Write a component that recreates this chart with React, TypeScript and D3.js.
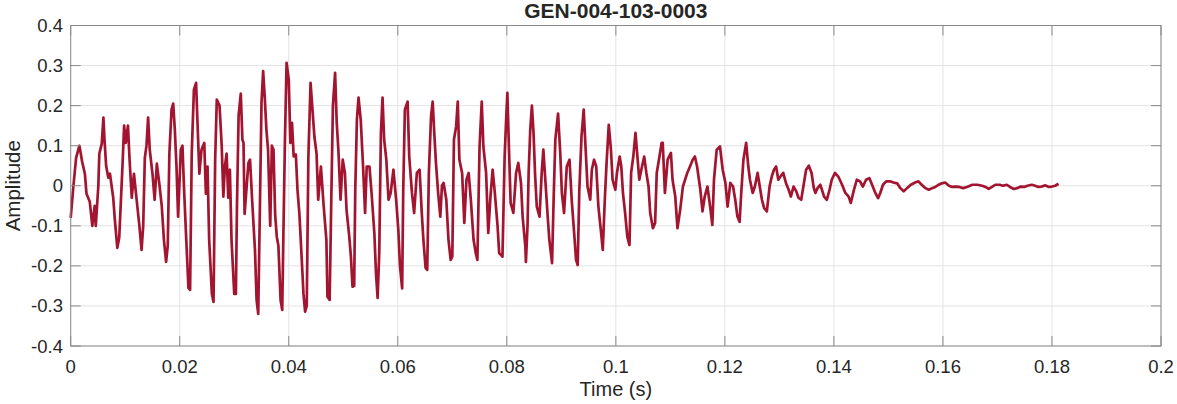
import React from "react";
import * as d3 from "d3";

const chartTitle = "GEN-004-103-0003";
const xLabel = "Time (s)";
const yLabel = "Amplitude";
const xTicks = [0, 0.02, 0.04, 0.06, 0.08, 0.1, 0.12, 0.14, 0.16, 0.18, 0.2];
const yTicks = [-0.4, -0.3, -0.2, -0.1, 0, 0.1, 0.2, 0.3, 0.4];

// time in milliseconds
const timeMs = [
  0, 0.5, 1.0, 1.6, 2.1, 2.6, 2.9, 3.5, 3.97, 4.4, 4.6, 5.07, 5.25, 5.7, 6.0, 6.2, 6.5, 6.9, 7.2, 7.8,
  8.1, 8.55, 8.9, 9.2, 9.5, 9.8, 10.1, 10.5, 10.8, 11.2, 11.6, 12.1, 12.6, 13.0, 13.3, 13.6, 13.9, 14.2, 14.5, 15.0,
  15.4, 15.8, 16.3, 16.7, 17.1, 17.5, 17.8, 18.1, 18.5, 18.8, 19.1, 19.4, 19.7, 20.2, 20.5, 20.8, 21.2, 21.6, 21.9, 22.2,
  22.6, 23.0, 23.2, 23.6, 24.0, 24.5, 24.8, 25.1, 25.4, 25.9, 26.2, 26.5, 26.8,
  27.3, 27.7, 28.0, 28.3, 28.6, 28.9, 29.2, 29.5, 30.0, 30.3, 30.5, 30.8, 31.2, 31.5, 31.7, 31.9, 32.6, 32.9, 33.3, 33.8,
  34.1, 34.4, 34.7, 35.0, 35.3, 35.6, 35.9, 36.2, 36.6, 36.9, 37.2, 37.5, 37.8, 38.1, 38.5, 38.8, 39.0, 39.3, 39.6, 40.0,
  40.3, 40.6, 40.9, 41.3, 41.6, 41.95, 42.2, 42.7, 43.0, 43.3, 43.6, 44.0, 44.3, 44.7, 45.1, 45.4, 45.9, 46.4, 46.9, 47.1,
  47.5, 47.8, 48.1, 48.5, 48.8, 49.1, 49.5, 49.9, 50.3, 50.6, 51.1, 51.4, 51.7, 52.0, 52.2, 52.5, 52.8, 53.2, 53.6, 54.0,
  54.3, 54.8,
  55.2, 55.7, 56.0, 56.3, 56.6, 56.9, 57.2, 57.5, 57.9, 58.3, 58.7, 59.2, 59.7, 60.1, 60.4, 60.8, 61.0, 61.3, 61.8, 62.1,
  62.6, 63.0, 63.5, 64.0, 64.4, 64.7, 65.1, 65.4, 65.7, 66.1, 66.4, 66.7, 67.0, 67.4, 67.8, 68.1, 68.4, 68.9, 69.3, 69.7,
  70.0, 70.3, 70.7, 71.0, 71.3, 71.8, 72.2, 72.6, 73.0, 73.4, 73.9, 74.3, 74.6, 75.0, 75.4, 75.7, 76.2, 76.6, 77.0, 77.4,
  77.8, 78.3, 78.6, 79.2, 79.6, 79.9, 80.1, 80.4, 80.7, 81.2, 81.7, 82.1,
  82.6, 82.9, 83.4, 83.5, 83.8, 84.0, 84.3, 84.6, 84.9, 85.2, 85.5, 86.0, 86.4, 86.7, 87.1, 87.5, 87.8, 88.3, 88.6, 88.9,
  89.4, 89.8, 90.1, 90.5, 91.0, 91.5, 91.9, 92.4, 92.7, 93.0, 93.3, 93.7, 94.1, 94.4, 94.8, 95.3, 95.6, 96.0, 96.4, 96.8,
  97.3, 97.6, 98.0, 98.3, 98.7, 99.1, 99.4, 99.9, 100.2, 100.7, 101.0, 101.3, 101.7, 102.1, 102.5, 102.8, 103.2, 103.6, 104.0, 104.3,
  104.8, 105.2, 105.6, 106.0, 106.3, 106.8, 107.2, 107.5, 108.0, 108.4, 108.6,
  109.0, 109.5, 110.1, 110.4, 110.9, 111.3, 111.8, 112.3, 112.7, 113.1, 113.6, 114.1, 114.5, 114.9, 115.5, 115.9, 116.3, 116.8, 117.3, 117.7,
  118.0, 118.5, 119.1, 119.6, 120.1, 120.5, 121.0, 121.5, 121.9, 122.3, 122.7, 123.0, 123.4, 123.9, 124.3, 124.6, 125.1, 125.5, 126.0, 126.4,
  126.8, 127.2, 127.7, 128.2, 128.6, 129.0, 129.4, 129.8, 130.2, 130.7, 131.2, 131.7, 132.1, 132.6, 133.1, 133.5, 134.0, 134.4, 134.9, 135.4,
  135.9,
  136.3, 136.6, 137.0, 137.5, 137.8, 138.2, 138.7, 139.2, 139.6, 140.2, 140.8, 141.5, 142.1, 142.7, 143.1, 143.6, 144.2, 144.8, 145.3, 145.9,
  146.5, 147.0, 147.6, 148.1, 148.5, 149.0, 149.6, 150.3, 150.9, 151.6, 152.2, 152.8, 153.4, 154.1, 154.9, 155.5, 156.1, 156.8, 157.4, 158.0,
  158.6, 159.2, 159.8, 160.4, 161.1, 161.7, 162.3, 163.0, 163.7, 164.4, 165.4, 166.3, 167.2, 167.8, 168.4, 169.0, 169.6, 170.4, 171.0, 171.7,
  172.3, 173.0, 173.6, 174.3, 174.9, 175.5, 176.3, 176.9, 177.5, 178.1, 178.8, 179.4, 180.0, 180.6, 181.2,
];

const amplitude = [
  -0.08, 0.0, 0.07, 0.1, 0.06, 0.03, -0.02, -0.04, -0.1, -0.05, -0.1, 0, 0.08, 0.105, 0.17, 0.115, 0.05, 0.02, 0.03, -0.03,
  -0.085, -0.155, -0.13, -0.04, 0.05, 0.15, 0.107, 0.15, 0.065, -0.03, 0.03, -0.035, -0.1, -0.16, -0.1, 0.07, 0.1, 0.17, 0.09, 0.03,
  -0.035, 0.055, 0, -0.05, -0.135, -0.19, -0.15, 0.08, 0.19, 0.205, 0.14, 0.05, -0.077, 0.09, 0.1, -0.01, -0.135, -0.255, -0.26, 0.08,
  0.24, 0.257, 0.18, 0.03, 0.09, 0.107, -0.02, 0.048, -0.135, -0.27, -0.29, 0.065, 0.215,
  0.2, 0.1, -0.027, 0.05, 0.08, -0.03, 0.04, -0.135, -0.27, -0.27, -0.05, 0.175, 0.23, 0.115, 0.107, -0.07, 0.057, 0.065, -0.04, -0.16,
  -0.285, -0.32, -0.06, 0.207, 0.286, 0.22, 0.14, 0.09, -0.1, 0.1, 0.09, -0.07, -0.127, -0.15, -0.285, -0.31, -0.135, 0.115, 0.307, 0.265,
  0.107, 0.157, 0.073, 0.078, -0.01, -0.07, -0.135, -0.27, -0.314, -0.3, 0.073, 0.257, 0.2, 0.123, 0.08, -0.035, 0.048, -0.05, -0.135, -0.277,
  -0.285, -0.035, 0.2, 0.282, 0.157, 0.09, -0.035, 0.065, 0.032, -0.06, -0.127, -0.177, -0.252, -0.25, -0.01, 0.165, 0.22, 0.165, 0.057, -0.068,
  0.048, 0.048,
  -0.02, -0.118, -0.218, -0.28, -0.168, 0.13, 0.22, 0.115, 0.065, -0.035, -0.018, 0.04, -0.035, -0.11, -0.2, -0.256, -0.01, 0.19, 0.21, 0.073,
  -0.018, -0.068, 0.032, 0.04, -0.068, -0.135, -0.205, -0.21, 0.032, 0.173, 0.21, 0.13, 0.057, -0.018, -0.077, 0.0, 0.007, -0.035, -0.135, -0.185,
  -0.177, 0.115, 0.148, 0.21, 0.065, 0.032, -0.093, 0.015, 0.032, -0.035, -0.135, -0.168, -0.185, 0.098, 0.21, 0.098, 0.032, -0.118, -0.027, 0.04,
  -0.018, -0.1, -0.168, -0.177, 0.073, 0.173, 0.232, 0.09, -0.043, -0.068, 0.032, 0.057,
  0.007, -0.077, -0.152, -0.19, -0.1, 0.032, 0.14, 0.2, 0.132, 0.023, -0.052, -0.077, 0.032, 0.09, 0.007, -0.077, -0.135, -0.193, -0.027, 0.115,
  0.18, 0.082, -0.018, -0.068, 0.048, 0.065, -0.035, -0.127, -0.185, -0.198, -0.01, 0.123, 0.19, 0.107, -0.002, -0.035, 0.04, 0.065, 0.048, -0.052,
  -0.118, -0.16, -0.027, 0.057, 0.152, 0.09, 0.015, -0.01, 0.032, 0.073, 0.048, -0.018, -0.068, -0.127, -0.148, 0.032, 0.073, 0.132, 0.065, 0.015,
  0.048, 0.073, 0.032, -0.002, -0.068, -0.106, -0.093, 0.032, 0.073, 0.107, 0.107,
  -0.018, 0.065, 0.082, 0.015, -0.027, -0.106, -0.06, -0.002, 0.015, 0.032, 0.048, 0.065, 0.073, 0.048, -0.01, -0.064, -0.027, -0.002, -0.052, -0.098,
  0.015, 0.09, 0.098, 0.04, 0.007, -0.052, 0.007, -0.002, -0.035, -0.077, -0.09, -0.018, 0.065, 0.107, 0.048, 0.015, -0.018, -0.002, 0.032, -0.002,
  -0.035, -0.056, -0.064, -0.002, 0.023, 0.04, 0.048, 0.015, 0.023, 0.032, 0.007, -0.01, -0.027, -0.002, -0.014, -0.03, -0.035, -0.002, 0.04, 0.05,
  0.032,
  -0.005, -0.018, -0.006, 0.0025, -0.01, -0.027, -0.035, -0.01, 0.015, 0.032, 0.023, 0.0025, -0.018, -0.027, -0.043, -0.014, 0.015, 0.011, -0.002, 0.015,
  0.019, 0.0025, -0.018, -0.031, -0.018, 0.0025, 0.011, 0.011, 0.008, 0.006, -0.006, -0.014, -0.006, 0.0025, 0.008, 0.011, 0.0025, -0.006, -0.01, -0.006,
  -0.003, 0.0025, 0.006, 0.008, 0.0, -0.003, -0.002, -0.003, -0.006, -0.003, 0.0025, 0.0025, 0.0, -0.003, -0.008, -0.003, 0.0025, 0.0025, 0.0, 0.0025,
  -0.003, -0.008, -0.006, -0.002, -0.003, 0.0, 0.0025, 0.0, -0.003, -0.002, 0.001, -0.003, -0.002, 0.0, 0.005,
];

const W = 1177;
const H = 404;
const L = 70.7;
const R = 1161;
const T = 25.5;
const B = 346;
const FONT = "'Liberation Sans', Arial, Helvetica, sans-serif";

export default function App() {
  const x = d3.scaleLinear().domain([0, 0.2]).range([L, R]);
  const y = d3.scaleLinear().domain([-0.4, 0.4]).range([B, T]);
  const n = Math.min(timeMs.length, amplitude.length);
  const pts: [number, number][] = [];
  for (let i = 0; i < n; i++) pts.push([timeMs[i] / 1000, amplitude[i]]);
  const line = d3
    .line<[number, number]>()
    .x((d) => x(d[0]))
    .y((d) => y(d[1]));
  const tickLen = 10;
  const axisColor = "#8a8a8a";
  const gridColor = "#e3e3e3";
  const textColor = "#262626";
  const fmtX = (v: number) => (v === 0 ? "0" : String(+v.toFixed(2)));
  const fmtY = (v: number) => (Math.abs(v) < 1e-9 ? "0" : String(+v.toFixed(1)));

  return (
    <svg
      width={W}
      height={H}
      style={{ position: "fixed", left: 0, top: 0, background: "#fff" }}
      fontFamily={FONT}
    >
      <rect x={0} y={0} width={W} height={H} fill="#fff" />
      {xTicks.map((t) => (
        <line key={"gx" + t} x1={x(t)} x2={x(t)} y1={T} y2={B} stroke={gridColor} strokeWidth={1} />
      ))}
      {yTicks.map((t) => (
        <line key={"gy" + t} x1={L} x2={R} y1={y(t)} y2={y(t)} stroke={gridColor} strokeWidth={1} />
      ))}
      <path d={line(pts) || ""} fill="none" stroke="#A2142F" strokeWidth={2.7} strokeLinejoin="round" />
      <rect x={L} y={T} width={R - L} height={B - T} fill="none" stroke={axisColor} strokeWidth={1} />
      {xTicks.map((t) => (
        <g key={"tx" + t}>
          <line x1={x(t)} x2={x(t)} y1={B} y2={B - tickLen} stroke={axisColor} />
          <line x1={x(t)} x2={x(t)} y1={T} y2={T + tickLen} stroke={axisColor} />
          <text x={x(t)} y={373} textAnchor="middle" fontSize={18.5} fill={textColor}>
            {fmtX(t)}
          </text>
        </g>
      ))}
      {yTicks.map((t) => (
        <g key={"ty" + t}>
          <line x1={L} x2={L + tickLen} y1={y(t)} y2={y(t)} stroke={axisColor} />
          <line x1={R} x2={R - tickLen} y1={y(t)} y2={y(t)} stroke={axisColor} />
          <text x={63} y={y(t) + 6.5} textAnchor="end" fontSize={18.5} fill={textColor}>
            {fmtY(t)}
          </text>
        </g>
      ))}
      <text x={(L + R) / 2} y={396} textAnchor="middle" fontSize={20} fill={textColor}>
        {xLabel}
      </text>
      <text
        transform={`translate(19.5, ${(T + B) / 2}) rotate(-90)`}
        textAnchor="middle"
        fontSize={20.5}
        fill={textColor}
      >
        {yLabel}
      </text>
      <text x={(L + R) / 2} y={18} textAnchor="middle" fontSize={21} fontWeight="bold" fill={textColor}>
        {chartTitle}
      </text>
    </svg>
  );
}
